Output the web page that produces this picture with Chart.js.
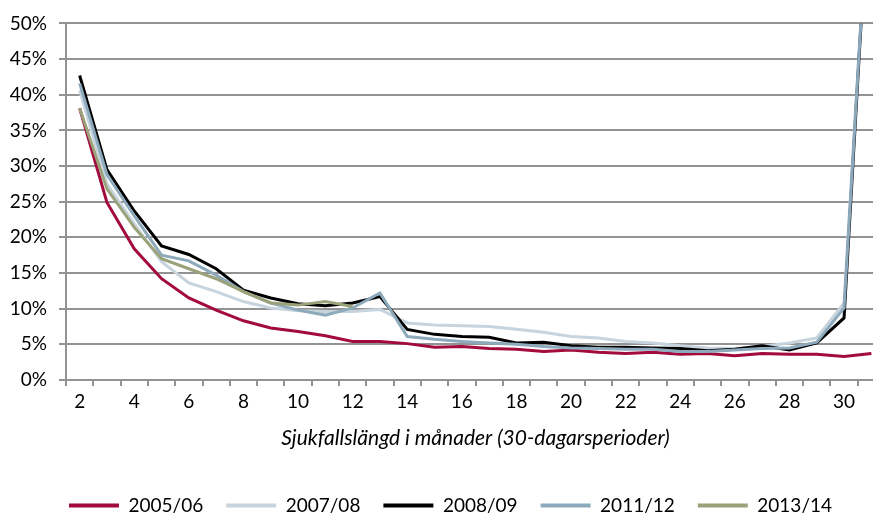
<!DOCTYPE html>
<html>
<head>
<meta charset="utf-8">
<script src="https://cdn.jsdelivr.net/npm/chart.js@4"></script>
<style>
  html, body { margin: 0; padding: 0; background: #fff; overflow: hidden; }
  #wrap { width: 885px; height: 517px; }
</style>
</head>
<body>
<div id="wrap"><canvas id="chart" width="885" height="517"></canvas></div>
<script>
// Sjukfallslängd (months 2..31)
const months = ["2","3","4","5","6","7","8","9","10","11","12","13","14","15","16","17","18","19","20","21","22","23","24","25","26","27","28","29","30","31"];

const s0506 = [38.1,24.9,18.4,14.2,11.5,9.8,8.3,7.3,6.8,6.2,5.4,5.4,5.1,4.6,4.7,4.4,4.3,4.0,4.2,3.9,3.7,3.9,3.6,3.7,3.4,3.7,3.6,3.6,3.3,3.7];
const s0708 = [40.6,27.5,21.9,16.6,13.6,12.4,11.0,10.1,9.7,9.6,9.6,9.9,8.0,7.7,7.6,7.5,7.1,6.7,6.1,5.9,5.4,5.2,4.8,4.5,4.4,4.7,5.2,5.9,10.8,75];
const s0809 = [42.7,29.5,23.7,18.8,17.6,15.6,12.6,11.5,10.7,10.4,10.8,11.7,7.1,6.4,6.1,6.0,5.2,5.3,4.8,4.6,4.6,4.5,4.4,4.1,4.3,4.8,4.2,5.2,8.7,75];
const s1112 = [41.6,28.8,23.0,17.5,16.7,14.7,12.4,10.8,9.8,9.1,10.1,12.2,6.1,5.7,5.4,5.2,5.0,4.7,4.5,4.4,4.3,4.3,4.0,4.0,4.2,4.4,4.5,5.3,10.1,75];
const s1314 = [38.1,26.8,21.4,17.0,15.6,14.2,12.4,10.8,10.5,11.0,10.3,null,null,null,null,null,null,null,null,null,null,null,null,null,null,null,null,null,null,null];

const seriesNames = ["2005/06", "2007/08", "2008/09", "2011/12", "2013/14"];
const seriesData = [s0506, s0708, s0809, s1112, s1314];
const seriesColors = ["#a20b3b", "#c8d4dd", "#000000", "#8da9bc", "#9aa27a"];

const gridGray = "#939393";
const fontFamily = "Lato, 'DejaVu Sans', sans-serif";

const datasets = seriesNames.map((name, i) => ({
  label: name,
  data: seriesData[i],
  borderColor: seriesColors[i],
  backgroundColor: seriesColors[i],
  borderWidth: 3,
  pointRadius: 0,
  tension: 0,
  spanGaps: false,
  order: seriesNames.length - i   // later series drawn on top, like Excel
}));

// nudge the legend a little to the right (reference is centred on a wider plot)
const legendShift = {
  id: "legendShift",
  afterLayout(chart) {
    chart.legend.left += 8;
    chart.legend.right += 8;
  }
};

new Chart(document.getElementById("chart"), {
  type: "line",
  data: { labels: months, datasets },
  options: {
    responsive: false,
    animation: false,
    layout: { padding: { top: 21, right: 0, bottom: -8, left: 0 } },
    plugins: {
      tooltip: { enabled: false },
      legend: {
        position: "bottom",
        labels: {
          boxWidth: 50,
          boxHeight: 4,
          padding: 23,
          color: "#000",
          font: { family: fontFamily, size: 19 },
          generateLabels: chart =>
            Chart.defaults.plugins.legend.labels.generateLabels(chart)
              .map(l => ({ ...l, lineWidth: 0 })),
          sort: (a, b) => a.datasetIndex - b.datasetIndex
        }
      }
    },
    scales: {
      x: {
        offset: true,
        grid: {
          display: true,
          drawOnChartArea: false,
          drawTicks: true,
          tickLength: 6,
          offset: true,
          color: gridGray,
          lineWidth: 2
        },
        border: { display: true, color: gridGray, width: 2 },
        ticks: {
          autoSkip: false,
          maxRotation: 0,
          padding: 4,
          color: "#000",
          font: { family: fontFamily, size: 19 },
          callback: function (v, i) { return i % 2 === 0 ? this.getLabelForValue(v) : ""; }
        },
        title: {
          display: true,
          text: "Sjukfallslängd i månader (30-dagarsperioder)",
          color: "#000",
          font: { family: fontFamily, size: 21, style: "italic" },
          padding: { top: 0, bottom: 22 }
        },
        afterFit: s => { s.height = 93; }
      },
      y: {
        min: 0,
        max: 50,
        grid: {
          color: gridGray,
          lineWidth: 2,
          tickLength: 7
        },
        border: { display: true, color: gridGray, width: 2 },
        ticks: {
          stepSize: 5,
          padding: 12,
          color: "#000",
          font: { family: fontFamily, size: 19 },
          callback: v => v + "%"
        },
        afterFit: s => { s.width = 66; }
      }
    }
  },
  plugins: [legendShift]
});
</script>
</body>
</html>
